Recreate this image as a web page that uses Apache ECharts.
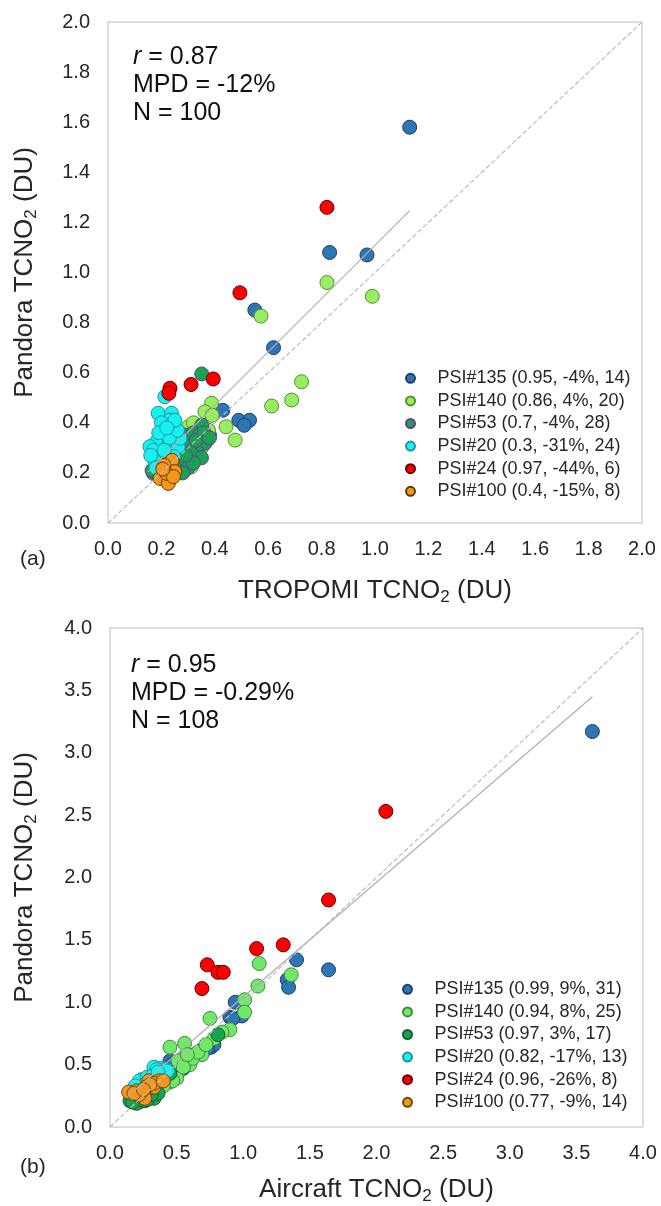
<!DOCTYPE html>
<html>
<head>
<meta charset="utf-8">
<script src="https://cdn.jsdelivr.net/npm/echarts@6/dist/echarts.min.js"></script>
<style>
html,body{margin:0;padding:0;background:#fff;}
#c{width:661px;height:1206px;}
</style>
</head>
<body>
<div id="c"></div>
<script>
// ---------- Panel (a): TROPOMI vs Pandora ----------
const namesA = ['PSI#135 (0.95, -4%, 14)','PSI#140 (0.86, 4%, 20)','PSI#53 (0.7, -4%, 28)','PSI#20 (0.3, -31%, 24)','PSI#24 (0.97, -44%, 6)','PSI#100 (0.4, -15%, 8)'];
const a135 = [[1.13,1.58],[0.83,1.08],[0.97,1.07],[0.55,0.85],[0.62,0.70],[0.43,0.45],[0.49,0.41],[0.53,0.41],[0.51,0.39],[0.37,0.33],[0.36,0.37],[0.33,0.31],[0.38,0.35],[0.30,0.27]];
const a140 = [[0.82,0.96],[0.99,0.905],[0.573,0.826],[0.725,0.564],[0.688,0.491],[0.613,0.467],[0.388,0.478],[0.363,0.444],[0.442,0.384],[0.476,0.331],[0.301,0.384],[0.376,0.371],[0.363,0.345],[0.288,0.298],[0.313,0.225],[0.27,0.33],[0.32,0.40],[0.39,0.43],[0.35,0.30],[0.30,0.26]];
const a53 = [[0.351,0.595],[0.351,0.391],[0.363,0.318],[0.332,0.285],[0.307,0.338],[0.288,0.351],[0.282,0.251],[0.301,0.238],[0.17,0.198],[0.165,0.21],[0.276,0.27],[0.32,0.36],[0.34,0.35],[0.29,0.31],[0.26,0.24],[0.31,0.28],[0.35,0.26],[0.27,0.29],[0.30,0.22],[0.33,0.33],[0.36,0.36],[0.38,0.34],[0.25,0.22],[0.28,0.20],[0.24,0.21],[0.32,0.24],[0.29,0.27],[0.19,0.22]];
const a20 = [[0.213,0.504],[0.188,0.438],[0.238,0.438],[0.232,0.411],[0.245,0.378],[0.213,0.358],[0.182,0.325],[0.157,0.305],[0.226,0.311],[0.263,0.305],[0.201,0.271],[0.176,0.245],[0.245,0.265],[0.27,0.338],[0.20,0.40],[0.17,0.29],[0.23,0.34],[0.19,0.36],[0.26,0.37],[0.16,0.27],[0.21,0.29],[0.25,0.41],[0.18,0.22],[0.22,0.38]];
const a24 = [[0.82,1.26],[0.494,0.919],[0.394,0.575],[0.311,0.553],[0.232,0.538],[0.228,0.518]];
const a100 = [[0.24,0.25],[0.21,0.23],[0.25,0.205],[0.195,0.178],[0.226,0.158],[0.22,0.198],[0.245,0.185],[0.205,0.215]];
const fitA = [[0.15,0.204],[1.13,1.247]];
const oneToOneA = [[0,0],[2,2]];
const statsA = ['= 0.87','MPD = -12%','N = 100'];

// ---------- Panel (b): Aircraft vs Pandora ----------
const namesB = ['PSI#135 (0.99, 9%, 31)','PSI#140 (0.94, 8%, 25)','PSI#53 (0.97, 3%, 17)','PSI#20 (0.82, -17%, 13)','PSI#24 (0.96, -26%, 8)','PSI#100 (0.77, -9%, 14)'];
const b135 = [[3.62,3.17],[1.64,1.26],[1.40,1.34],[1.33,1.18],[1.34,1.12],[0.99,0.99],[0.94,1.0],[0.90,0.88],[0.99,0.89],[0.92,0.87],[0.76,0.64],[0.78,0.66],[0.69,0.62],[0.73,0.63],[0.45,0.53],[0.47,0.50],[0.55,0.47],[0.60,0.55],[0.40,0.42],[0.42,0.36],[0.38,0.34],[0.35,0.32],[0.33,0.28],[0.30,0.26],[0.28,0.24],[0.25,0.22],[0.22,0.20],[0.36,0.30],[0.44,0.40],[0.52,0.45],[0.64,0.58]];
const b140 = [[1.12,1.31],[1.36,1.22],[1.11,1.13],[1.01,1.02],[1.01,0.92],[0.75,0.87],[0.90,0.78],[0.78,0.71],[0.56,0.67],[0.45,0.64],[0.69,0.58],[0.56,0.57],[0.60,0.50],[0.51,0.53],[0.51,0.44],[0.50,0.39],[0.45,0.36],[0.47,0.37],[0.62,0.55],[0.66,0.60],[0.84,0.76],[0.55,0.48],[0.40,0.33],[0.58,0.58],[0.72,0.66]];
const b53 = [[0.81,0.74],[0.15,0.21],[0.20,0.19],[0.26,0.21],[0.33,0.23],[0.18,0.24],[0.24,0.27],[0.30,0.30],[0.28,0.22],[0.22,0.22],[0.36,0.27],[0.40,0.38],[0.17,0.20],[0.31,0.26],[0.26,0.25],[0.45,0.43],[0.21,0.26]];
const b20 = [[0.33,0.48],[0.38,0.47],[0.41,0.46],[0.35,0.46],[0.24,0.38],[0.22,0.37],[0.28,0.40],[0.30,0.37],[0.43,0.45],[0.26,0.34],[0.32,0.41],[0.19,0.33],[0.36,0.44]];
const b24 = [[2.07,2.53],[1.64,1.82],[1.10,1.43],[1.30,1.46],[0.73,1.30],[0.81,1.24],[0.85,1.24],[0.69,1.11]];
const b100 = [[0.14,0.28],[0.20,0.29],[0.24,0.25],[0.26,0.23],[0.29,0.37],[0.33,0.32],[0.37,0.37],[0.33,0.35],[0.27,0.32],[0.22,0.26],[0.18,0.27],[0.30,0.34],[0.40,0.37],[0.25,0.30]];
const fitB = [[0.13,0.245],[3.62,3.449]];
const oneToOneB = [[0,0],[4,4]];
const statsB = ['= 0.95','MPD = -0.29%','N = 108'];

const ticksA = {min:0, max:2, interval:0.2};
const ticksB = {min:0, max:4, interval:0.5};

const colors = ['#2E75B6','#96EE60','#17A352','#15F2F2','#FF0000','#F7961C'];
const colorsB = ['#2E75B6','#72E86A','#17A352','#15F2F2','#FF0000','#F7961C'];
const borders = ['#1f3f66','#5a8a3a','#6b3a9a','#2a8f9a','#600000','#5a3a00'];
const bordersB = ['#1f3f66','#3f8a3f','#1c5a30','#2a8f9a','#600000','#6a4a10'];

const FONT = '"Liberation Sans", Arial, sans-serif';
const TXT = '#262626';

function scat(name, data, xi, color, border){
  return {type:'scatter', name, data, xAxisIndex:xi, yAxisIndex:xi, symbol:'circle', symbolSize:14,
    itemStyle:{color, borderColor:border, borderWidth:1, opacity:1}, z:3, silent:true};
}
function ln(data, xi, type){
  return {type:'line', data, xAxisIndex:xi, yAxisIndex:xi, symbol:'none', silent:true, z:5,
    lineStyle:{color: type==='dashed' ? '#bdbdbd' : '#b0b0b0', width:1.2, type}};
}
const dataA = [a135,a140,a53,a20,a24,a100];
const dataB = [b135,b140,b53,b20,b24,b100];
const series = [];
dataA.forEach((d,i)=>series.push(scat(namesA[i], d, 0, colors[i], borders[i])));
dataB.forEach((d,i)=>series.push(scat(namesB[i], d, 1, colorsB[i], bordersB[i])));
series.push(ln(oneToOneA,0,'dashed'), ln(fitA,0,'solid'), ln(oneToOneB,1,'dashed'), ln(fitB,1,'solid'));

const nameStyle = {fontSize:26, color:TXT, fontFamily:FONT, rich:{sub:{fontSize:17, color:TXT, fontFamily:FONT, verticalAlign:'bottom', padding:[0,0,-2,0]}}};
function xAx(gi, t, name, gap){
  return {type:'value', gridIndex:gi, min:t.min, max:t.max, interval:t.interval,
    axisLine:{show:false}, axisTick:{show:false}, splitLine:{show:false},
    axisLabel:{fontSize:20, color:TXT, fontFamily:FONT, margin:16, formatter:v=>v.toFixed(1)},
    name, nameLocation:'middle', nameGap:gap, nameTextStyle:nameStyle};
}
function yAx(gi, t, name, gap){
  return {type:'value', gridIndex:gi, min:t.min, max:t.max, interval:t.interval,
    axisLine:{show:false}, axisTick:{show:false}, splitLine:{show:false},
    axisLabel:{fontSize:20, color:TXT, fontFamily:FONT, margin:18, formatter:v=>v.toFixed(1)},
    name, nameLocation:'middle', nameGap:gap, nameTextStyle:nameStyle};
}
function legend(names, left, top){
  return {orient:'vertical', left, top, itemWidth:44, itemHeight:9, itemGap:0, selectedMode:false,
    data:names.map(n=>({name:n, icon:'circle'})),
    textStyle:{fontSize:18, color:TXT, fontFamily:FONT, lineHeight:22.6}};
}
function statText(lines, left, top){
  const els = [];
  lines.forEach((s,i)=>{
    const y = top + i*28;
    els.push({type:'text', left: left, top: y, style:{
      text: i===0 ? '{i|r} ' + s : s,
      font: '25px ' + FONT, fill:'#111',
      rich:{i:{fontStyle:'italic', fontSize:25, fontFamily:FONT, fill:'#111'}}
    }});
  });
  return els;
}

const chart = echarts.init(document.getElementById('c'), null, {renderer:'canvas'});
chart.setOption({
  animation:false,
  backgroundColor:'#fff',
  grid:[
    {left:108, top:22, width:534, height:501, show:true, borderColor:'#d4d4d4', borderWidth:1.5},
    {left:110, top:628, width:533, height:502, show:true, borderColor:'#d4d4d4', borderWidth:1.5}
  ],
  xAxis:[xAx(0, ticksA, 'TROPOMI TCNO{sub|2} (DU)', 55), xAx(1, ticksB, 'Aircraft TCNO{sub|2} (DU)', 50)],
  yAxis:[yAx(0, ticksA, 'Pandora TCNO{sub|2} (DU)', 70), yAx(1, ticksB, 'Pandora TCNO{sub|2} (DU)', 72)],
  legend:[legend(namesA, 400, 362), legend(namesB, 397, 973)],
  series,
  graphic:[
    ...statText(statsA, 133, 45),
    ...statText(statsB, 131, 653),
    {type:'text', left:20, top:549, style:{text:'(a)', font:'21px '+FONT, fill:TXT}},
    {type:'text', left:20, top:1157, style:{text:'(b)', font:'21px '+FONT, fill:TXT}}
  ]
});
</script>
</body>
</html>
